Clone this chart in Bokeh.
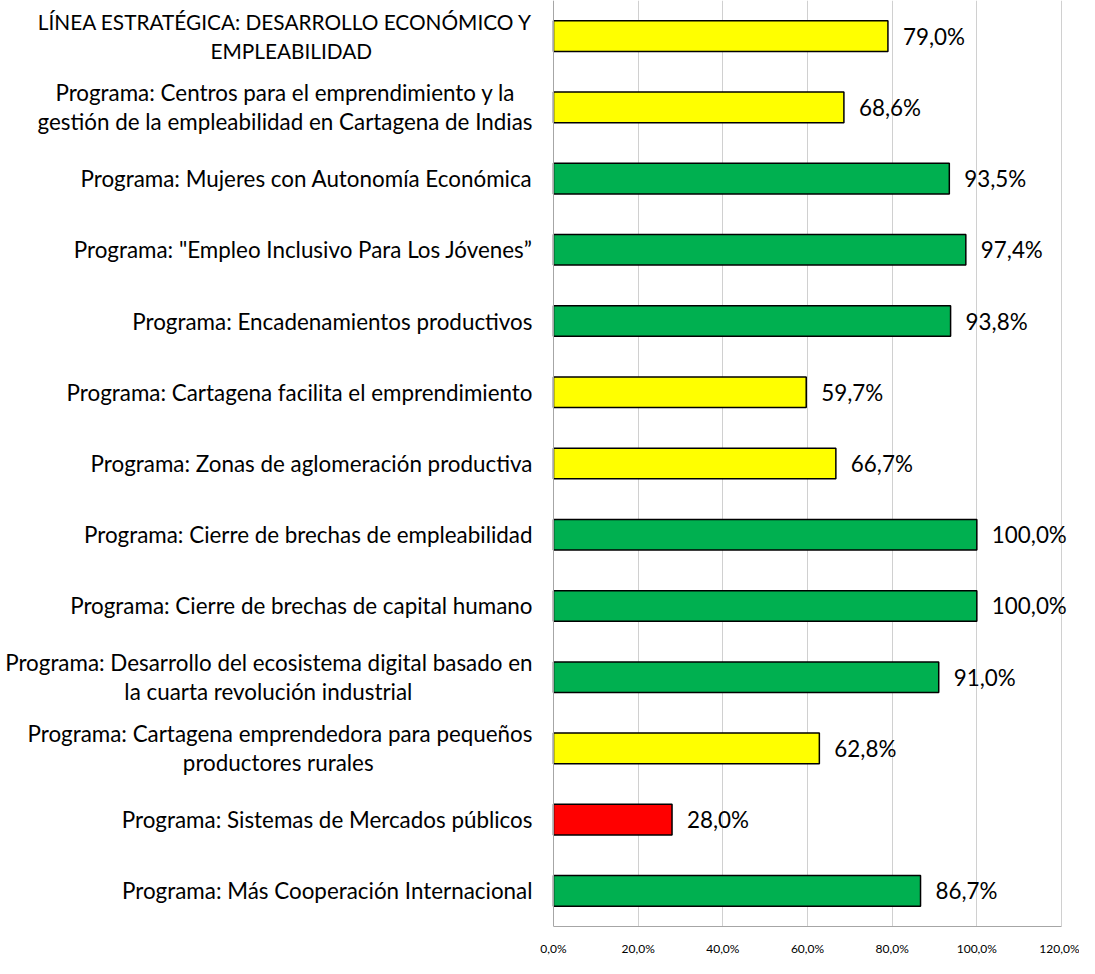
from bokeh.plotting import figure
from bokeh.models import FactorRange, Range1d, ColumnDataSource, FixedTicker, Span
from bokeh.core.properties import value
from bokeh.embed import file_html
from bokeh.resources import INLINE

categories = [
    "LÍNEA ESTRATÉGICA: DESARROLLO ECONÓMICO Y\nEMPLEABILIDAD",
    "Programa: Centros para el emprendimiento y la\ngestión de la empleabilidad en Cartagena de Indias",
    "Programa: Mujeres con Autonomía Económica",
    "Programa: \"Empleo Inclusivo Para Los Jóvenes\u201d",
    "Programa: Encadenamientos productivos",
    "Programa: Cartagena facilita el emprendimiento",
    "Programa: Zonas de aglomeración productiva",
    "Programa: Cierre de brechas de empleabilidad",
    "Programa: Cierre de brechas de capital humano",
    "Programa: Desarrollo del ecosistema digital basado en\nla cuarta revolución industrial",
    "Programa: Cartagena emprendedora para pequeños\nproductores rurales",
    "Programa: Sistemas de Mercados públicos",
    "Programa: Más Cooperación Internacional",
]
values = [79.0, 68.6, 93.5, 97.4, 93.8, 59.7, 66.7, 100.0, 100.0, 91.0, 62.8, 28.0, 86.7]
x_ticks = [0, 20, 40, 60, 80, 100, 120]
x_tick_labels = ["0,0%", "20,0%", "40,0%", "60,0%", "80,0%", "100,0%", "120,0%"]


def color_for(v):
    if v >= 80:
        return "#00B050"
    if v >= 40:
        return "#FFFF00"
    return "#FF0000"


labels = [("%.1f" % v).replace(".", ",") + "%" for v in values]
colors = [color_for(v) for v in values]

# ---- layout constants (pixels) ----
W, H = 1079, 958
PLOT_LEFT_PX = 553          # where 0 % sits inside the canvas
PLOT_RIGHT_PX = 1061        # where the last tick sits inside the canvas
FONT = "Lato"
CAT_PX = 22.4
CAPS_PX = 20.8              # Lato capitals run wider than the original face
LINE_H = 29.0
STANDOFF = 21

x_lo, x_hi = x_ticks[0], x_ticks[-1]
ppu = (PLOT_RIGHT_PX - PLOT_LEFT_PX) / (x_hi - x_lo)
x_start = x_lo - PLOT_LEFT_PX / ppu
x_end = x_lo + (W - PLOT_LEFT_PX) / ppu

# approximate glyph advance widths (em) used only to centre short wrapped lines
_W = {
    'a': .479, 'b': .525, 'c': .423, 'd': .525, 'e': .498, 'f': .305, 'g': .471,
    'h': .525, 'i': .229, 'j': .239, 'k': .455, 'l': .229, 'm': .799, 'n': .525,
    'o': .527, 'p': .525, 'q': .525, 'r': .349, 's': .391, 't': .335, 'u': .525,
    'v': .452, 'w': .715, 'x': .433, 'y': .453, 'z': .395, 'ñ': .525, 'ó': .527,
    'á': .479, 'é': .498, 'í': .229, 'ú': .525, ' ': .226, ':': .268, ',': .25,
    '.': .252, '"': .401, '\u201d': .47,
    'A': .579, 'B': .544, 'C': .533, 'D': .615, 'E': .488, 'F': .459, 'G': .631,
    'H': .623, 'I': .252, 'J': .319, 'K': .52, 'L': .42, 'M': .855, 'N': .646,
    'O': .662, 'P': .517, 'Q': .673, 'R': .543, 'S': .459, 'T': .487, 'U': .642,
    'V': .567, 'W': .890, 'X': .519, 'Y': .487, 'Z': .468, 'É': .488, 'Í': .252,
    'Ó': .662,
}


def text_width(s, px):
    w = 0.0
    for ch in s:
        w += _W.get(ch, .5) * (1.15 if ch.isupper() else 1.065)
    return w * px


def size_for(line):
    return CAPS_PX if line == line.upper() else CAT_PX


# category label lines: longest line right-aligned at the axis,
# shorter wrapped line centred on it (as Excel does)
r_cat, r_txt, r_dy, r_fs = [], [], [], []
c_cat, c_txt, c_dy, c_dx, c_fs = [], [], [], [], []
for cat in categories:
    lines = cat.split("\n")
    n = len(lines)
    widths = [text_width(l, size_for(l)) for l in lines]
    wmax = max(widths)
    for k, line in enumerate(lines):
        dy = (k - (n - 1) / 2.0) * LINE_H
        fs = "%.1fpx" % size_for(line)
        if n == 1 or widths[k] == wmax:
            r_cat.append(cat); r_txt.append(line); r_dy.append(dy); r_fs.append(fs)
        else:
            c_cat.append(cat); c_txt.append(line); c_dy.append(dy); c_fs.append(fs)
            c_dx.append(-(STANDOFF + wmax / 2.0))

src = ColumnDataSource(dict(cat=categories, val=values, lbl=labels, color=colors,
                            zero=[x_lo] * len(values)))
rsrc = ColumnDataSource(dict(cat=r_cat, txt=r_txt, dy=r_dy, fs=r_fs,
                             zero=[x_lo] * len(r_cat)))
csrc = ColumnDataSource(dict(cat=c_cat, txt=c_txt, dy=c_dy, dx=c_dx, fs=c_fs,
                             zero=[x_lo] * len(c_cat)))

p = figure(
    width=W, height=H,
    y_range=FactorRange(factors=list(reversed(categories))),
    x_range=Range1d(x_start, x_end),
    output_backend="svg", toolbar_location=None,
    min_border_left=0, min_border_right=0,
    min_border_top=0, min_border_bottom=26,
)

p.hbar(y="cat", left="zero", right="val", height=0.43, fill_color="color",
       line_color="black", line_width=1.5, source=src)

p.text(x="val", y="cat", text="lbl", x_offset=15, text_baseline="middle",
       text_align="left", text_font=value(FONT), text_font_size="22.4px",
       text_color="black", source=src)

p.text(x="zero", y="cat", text="txt", x_offset=-STANDOFF, y_offset="dy",
       text_baseline="middle", text_align="right", text_font=value(FONT),
       text_font_size="fs", text_color="black", source=rsrc)
p.text(x="zero", y="cat", text="txt", x_offset="dx", y_offset="dy",
       text_baseline="middle", text_align="center", text_font=value(FONT),
       text_font_size="fs", text_color="black", source=csrc)

p.add_layout(Span(location=x_lo, dimension="height", line_color="#a6a6a6", line_width=1))

p.outline_line_color = None
p.ygrid.grid_line_color = None
p.yaxis.visible = False
p.xgrid.grid_line_color = "#d0d0d0"
p.xgrid.grid_line_width = 1

p.xaxis.ticker = FixedTicker(ticks=x_ticks)
p.xaxis.bounds = (x_lo, x_hi)
p.xaxis.major_label_overrides = {t: l for t, l in zip(x_ticks, x_tick_labels)}
p.xaxis.major_tick_line_color = None
p.xaxis.minor_tick_line_color = None
p.xaxis.axis_line_color = "#a6a6a6"
p.xaxis.major_label_text_font = FONT
p.xaxis.major_label_text_font_size = "12px"
p.xaxis.major_label_text_color = "black"
p.xaxis.major_label_standoff = 8

open("out.html", "w").write(file_html(p, INLINE))
